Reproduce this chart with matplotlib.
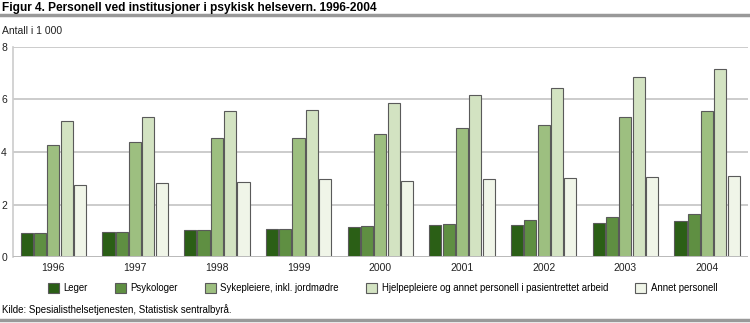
import numpy as np
import matplotlib
matplotlib.use("Agg")
import matplotlib.pyplot as plt
from matplotlib.lines import Line2D

# data (thousands)
years = ["1996", "1997", "1998", "1999", "2000", "2001", "2002", "2003", "2004"]
leger = [0.94, 0.97, 1.05, 1.09, 1.15, 1.24, 1.23, 1.30, 1.38]
psykologer = [0.91, 0.95, 1.03, 1.09, 1.19, 1.27, 1.42, 1.53, 1.65]
sykepleiere = [4.27, 4.39, 4.53, 4.52, 4.67, 4.92, 5.04, 5.33, 5.56]
hjelpepleiere = [5.16, 5.33, 5.56, 5.61, 5.86, 6.16, 6.44, 6.86, 7.16]
annet = [2.75, 2.84, 2.86, 2.96, 2.90, 2.99, 3.01, 3.04, 3.09]
labels = ["Leger", "Psykologer", "Sykepleiere, inkl. jordmødre",
          "Hjelpepleiere og annet personell i pasientrettet arbeid", "Annet personell"]
colors = ["#2b5f16", "#5f8f42", "#9dbf80", "#d3e3c2", "#f0f5e8"]

plt.rcParams["font.family"] = ["Liberation Sans", "DejaVu Sans"]

fig = plt.figure(figsize=(7.5, 3.23), dpi=100)
ax = fig.add_axes([0.0167, 0.2034, 0.9806, 0.652])

series = [leger, psykologer, sykepleiere, hjelpepleiere, annet]
x = np.arange(len(years))
bw = 0.148
step = 0.163
for i, (vals, c, lab) in enumerate(zip(series, colors, labels)):
    ax.bar(x + (i - 2) * step, vals, width=bw, color=c, edgecolor="#5a5a5a",
           linewidth=0.8, label=lab, zorder=3)

ax.set_xlim(-0.5, 8.5)
ax.set_ylim(0, 8)
ax.set_yticks([0, 2, 4, 6, 8])
ax.set_xticks(x)
ax.set_xticklabels(years)
ax.tick_params(axis="both", length=0, labelsize=7.5, colors="#222222")
ax.tick_params(axis="y", pad=4)
ax.tick_params(axis="x", pad=4)
ax.grid(axis="y", color="#cccccc", linewidth=1.4, zorder=0)
for s in ["top", "right", "bottom"]:
    ax.spines[s].set_visible(False)
ax.spines["left"].set_color("#cccccc")
ax.spines["left"].set_linewidth(1.2)
ax.axhline(0, color="#bbbbbb", linewidth=1.4, zorder=4)

# title and rules
fig.text(0.003, 0.975, "Figur 4. Personell ved institusjoner i psykisk helsevern. 1996-2004",
         fontsize=8.6, fontweight="bold", ha="left", va="center")
fig.add_artist(Line2D([0, 1], [0.953, 0.953], color="#999999", linewidth=2.5))
fig.text(0.003, 0.905, "Antall i 1 000", fontsize=7.5, ha="left", va="center", color="#222222")

handles, labs = ax.get_legend_handles_labels()
leg = fig.legend(handles, labs, loc="center", bbox_to_anchor=(0.51, 0.108), ncol=5,
                 frameon=False, handlelength=1.15, handleheight=1.15,
                 columnspacing=2.85, handletextpad=0.45, prop={"size": 6.9})

fig.text(0.003, 0.043, "Kilde: Spesialisthelsetjenesten, Statistisk sentralbyrå.",
         fontsize=7, ha="left", va="center")
fig.add_artist(Line2D([0, 1], [0.008, 0.008], color="#999999", linewidth=2.5))

fig.savefig("out.png", dpi=100)
